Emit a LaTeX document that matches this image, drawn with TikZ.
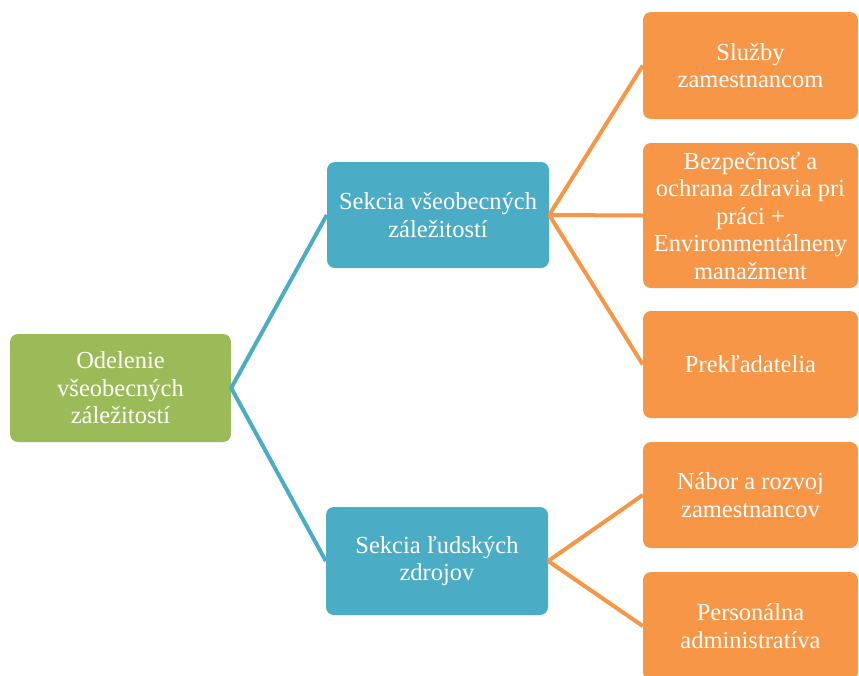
\documentclass[tikz,border=0pt]{standalone}
\usepackage{fontspec}
\setmainfont{Liberation Serif}
\definecolor{cgreen}{HTML}{9BBB59}
\definecolor{cblue}{HTML}{4BACC6}
\definecolor{corange}{HTML}{F79646}
\begin{document}
\begin{tikzpicture}[x=1pt,y=-1pt,
  box/.style={rounded corners=8pt,inner sep=0pt,align=center,text=white,
    font=\fontsize{24.5}{27.5}\selectfont},
  gbox/.style={box,fill=cgreen},
  bbox/.style={box,fill=cblue},
  obox/.style={box,fill=corange,minimum width=215pt},
  bline/.style={draw=cblue,line width=4pt},
  oline/.style={draw=corange,line width=4pt}]
\useasboundingbox (0,0) rectangle (859,675);
\clip (0,0) rectangle (859,675);
\node[gbox,minimum width=221pt,minimum height=108pt] (root) at (120.5,388) {Odelenie\\všeobecných\\záležitostí};
\node[bbox,minimum width=222pt,minimum height=106pt] (s1) at (438,215) {Sekcia všeobecných\\záležitostí};
\node[bbox,minimum width=222pt,minimum height=108pt] (s2) at (437,561) {Sekcia ľudských\\zdrojov};
\node[obox,minimum height=107pt] (o1) at (750.5,65.5) {Služby\\zamestnancom};
\node[obox,minimum height=145pt] (o2) at (750.5,215.5) {Bezpečnosť a\\ochrana zdravia pri\\práci +\\Environmentálneny\\manažment};
\node[obox,minimum height=107pt] (o3) at (750.5,364.5) {Prekľadatelia};
\node[obox,minimum height=106pt] (o4) at (750.5,495) {Nábor a rozvoj\\zamestnancov};
\node[obox,minimum height=108pt] (o5) at (750.5,626) {Personálna\\administratíva};
\draw[bline] (s1.west) -- (root.east) -- (s2.west);
\draw[oline] (s1.east) -- (o1.west);
\draw[oline] (s1.east) -- (o2.west);
\draw[oline] (s1.east) -- (o3.west);
\draw[oline] (s2.east) -- (o4.west);
\draw[oline] (s2.east) -- (o5.west);
\end{tikzpicture}
\end{document}
